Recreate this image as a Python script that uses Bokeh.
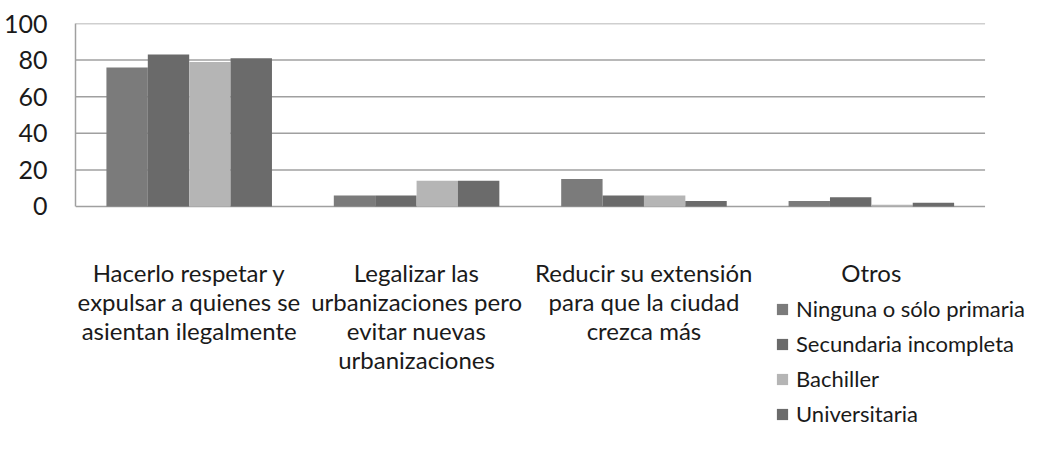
from bokeh.plotting import figure
from bokeh.models import ColumnDataSource, Legend, LegendItem, FixedTicker
from bokeh.core.properties import value
from bokeh.embed import file_html
from bokeh.resources import INLINE

categories = [
    "Hacerlo respetar y\nexpulsar a quienes se\nasientan ilegalmente",
    "Legalizar las\nurbanizaciones pero\nevitar nuevas\nurbanizaciones",
    "Reducir su extensión\npara que la ciudad\ncrezca más",
    "Otros",
]
series_names = ["Ninguna o sólo primaria", "Secundaria incompleta", "Bachiller", "Universitaria"]
ninguna = [76, 6, 15, 3]
secundaria = [83, 6, 6, 5]
bachiller = [79, 14, 6, 1]
universitaria = [81, 14, 3, 2]
y_ticks = [0, 20, 40, 60, 80, 100]

colors = ["#7b7b7b", "#6a6a6a", "#b5b5b5", "#6b6b6b"]
FONT = "Lato"
TXT = "#1a1a1a"
GRID = "#a0a0a0"

n = len(categories)
centers = [i + 0.5 for i in range(n)]
src = ColumnDataSource(dict(x=centers, s0=ninguna, s1=secundaria, s2=bachiller, s3=universitaria))

# frame spans to the right/bottom edge so the legend (inside the frame) is not clipped
p = figure(x_range=(0, 968 / 230), y_range=(-126.8, 100), width=1032, height=438,
           output_backend="svg", toolbar_location=None, x_axis_location=None,
           min_border_left=64, min_border_right=0, min_border_top=23, min_border_bottom=0)
p.outline_line_color = None
p.background_fill_color = "white"
p.border_fill_color = "white"
p.xgrid.grid_line_color = None
p.ygrid.grid_line_color = None

# horizontal gridlines over the category span only
p.segment(x0=[0] * len(y_ticks), x1=[n] * len(y_ticks), y0=y_ticks, y1=y_ticks,
          line_color=GRID, line_width=1.5)

bw = 0.182
renderers = []
for i, col in enumerate(["s0", "s1", "s2", "s3"]):
    off = (i - 1.5) * bw
    xs = [c + off for c in centers]
    s = ColumnDataSource(dict(x=xs, top=src.data[col]))
    r = p.vbar(x="x", top="top", width=bw, source=s, fill_color=colors[i], line_color=None)
    renderers.append(r)

p.yaxis.ticker = FixedTicker(ticks=y_ticks)
p.yaxis.bounds = (y_ticks[0], y_ticks[-1])
p.yaxis.axis_line_color = GRID
p.yaxis.axis_line_width = 1.5
p.yaxis.major_tick_line_color = None
p.yaxis.minor_tick_line_color = None
p.yaxis.major_label_text_font = FONT
p.yaxis.major_label_text_font_size = "25px"
p.yaxis.major_label_text_color = TXT
p.yaxis.major_label_standoff = 22

# category labels below the zero line
p.text(x=centers, y=[0] * n, text=categories, text_align="center", text_baseline="top",
       y_offset=52, text_font=value(FONT), text_font_size="24px", text_color=TXT,
       text_line_height=1.0)

legend = Legend(items=[LegendItem(label=nm, renderers=[r]) for nm, r in zip(series_names, renderers)],
                location=(700, 11))
legend.label_text_font = FONT
legend.label_text_font_size = "22px"
legend.label_text_color = TXT
legend.glyph_width = 14
legend.glyph_height = 14
legend.label_height = 20
legend.label_standoff = 7
legend.spacing = 8
legend.padding = 0
legend.margin = 0
legend.border_line_color = None
legend.background_fill_alpha = 0
p.add_layout(legend, "center")

open("out.html", "w").write(file_html(p, INLINE))
